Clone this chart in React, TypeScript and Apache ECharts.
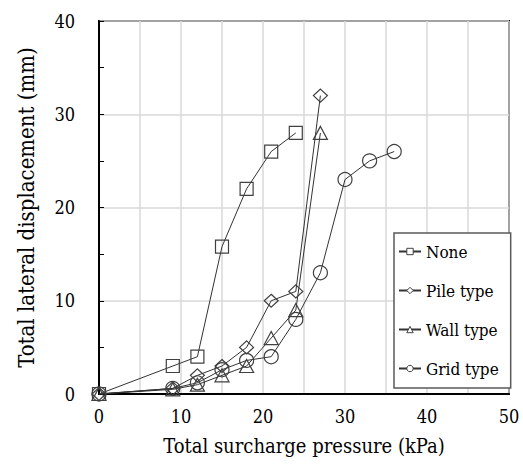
import React, { useEffect, useRef } from "react";
import * as echarts from "echarts";

const seriesNames = ["None", "Pile type", "Wall type", "Grid type"];
const noneData = [[0, 0], [9, 3], [12, 4], [15, 15.8], [18, 22], [21, 26], [24, 28]];
const pileData = [[0, 0], [9, 0.6], [12, 2], [15, 3], [18, 5], [21, 10], [24, 11], [27, 32]];
const wallData = [[0, 0], [9, 0.5], [12, 1], [15, 2], [18, 3], [21, 6], [24, 9], [27, 28]];
const gridData = [[0, 0], [9, 0.6], [12, 1.2], [15, 2.6], [18, 3.6], [21, 4], [24, 8], [27, 13], [30, 23], [33, 25], [36, 26]];
const symbols = ["rect", "diamond", "triangle", "circle"];
const symbolSizes: any[] = [13, [14, 13], [14, 13], 14];

const FONT_C = "DejaVu Serif Condensed";

export default function App() {
  const ref = useRef<HTMLDivElement>(null);
  useEffect(() => {
    if (!ref.current) return;
    const chart = echarts.init(ref.current, null, { renderer: "svg" });
    const datasets = [noneData, pileData, wallData, gridData];
    chart.setOption({
      animation: false,
      backgroundColor: "#ffffff",
      textStyle: { fontFamily: FONT_C },
      grid: {
        left: 99,
        right: 14,
        top: 21,
        bottom: 70,
        show: true,
        borderColor: "#000000",
        borderWidth: 2,
        backgroundColor: "transparent",
      },
      legend: {
        orient: "vertical",
        left: 394,
        top: 233,
        backgroundColor: "#ffffff",
        borderColor: "#595959",
        borderWidth: 1.5,
        padding: [10, 12, 11, 4],
        itemGap: 22,
        itemWidth: 22,
        itemHeight: 8,
        itemStyle: { color: "#ffffff", borderColor: "#404040", borderWidth: 1 },
        textStyle: { fontFamily: FONT_C, fontSize: 17, color: "#000000" },
        data: seriesNames,
      },
      xAxis: {
        type: "value",
        min: 0,
        max: 50,
        interval: 10,
        name: "Total surcharge pressure (kPa)",
        nameLocation: "middle",
        nameGap: 42,
        nameTextStyle: { fontFamily: FONT_C, fontSize: 20, color: "#000000" },
        axisLine: { show: true, onZero: false, lineStyle: { color: "#000000", width: 2 } },
        axisTick: { show: false },
        minorTick: { show: false, splitNumber: 2 },
        axisLabel: { fontFamily: FONT_C, fontSize: 18, color: "#000000", margin: 13 },
        splitLine: { show: true, lineStyle: { color: "#d9d9d9", width: 1.5 } },
        minorSplitLine: { show: true, lineStyle: { color: "#d9d9d9", width: 1.5 } },
      },
      yAxis: {
        type: "value",
        min: 0,
        max: 40,
        interval: 10,
        name: "Total lateral displacement (mm)",
        nameLocation: "middle",
        nameGap: 62,
        nameTextStyle: { fontFamily: FONT_C, fontSize: 22, color: "#000000" },
        axisLine: { show: true, onZero: false, lineStyle: { color: "#000000", width: 2 } },
        axisTick: { show: true, inside: true, length: 5, lineStyle: { color: "#000000" } },
        minorTick: { show: true, splitNumber: 2, length: 5, lineStyle: { color: "#000000" } },
        axisLabel: { fontFamily: FONT_C, fontSize: 18, color: "#000000", margin: 24 },
        splitLine: { show: true, lineStyle: { color: "#d9d9d9", width: 1.5 } },
      },
      series: seriesNames.map((name, i) => ({
        name,
        type: "line",
        data: datasets[i],
        symbol: symbols[i],
        symbolSize: symbolSizes[i],
        showSymbol: true,
        lineStyle: { color: "#333333", width: 1 },
        itemStyle: { color: "rgba(255,255,255,0)", borderColor: "#404040", borderWidth: 1.2 },
        emphasis: { disabled: true },
        z: 3,
      })),
    });
    return () => chart.dispose();
  }, []);
  return (
    <div
      ref={ref}
      style={{ position: "fixed", left: 0, top: 0, width: 523, height: 464 }}
    />
  );
}
